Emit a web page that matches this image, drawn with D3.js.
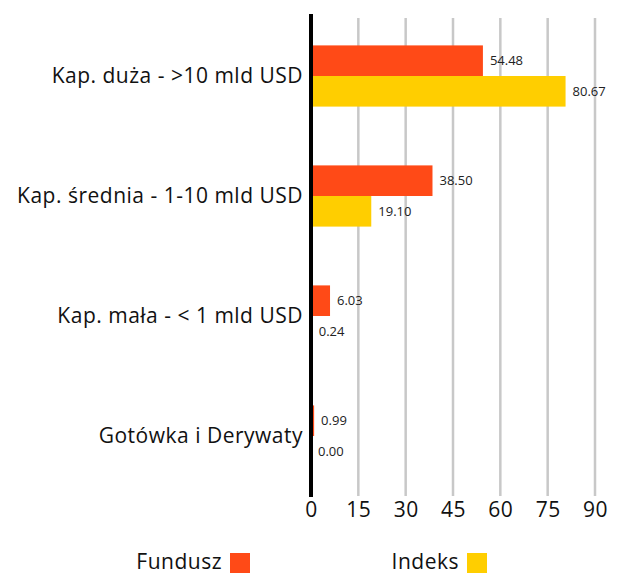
<!DOCTYPE html>
<html>
<head>
<meta charset="utf-8">
<script src="https://cdn.jsdelivr.net/npm/d3@7"></script>
<style>
  body { margin: 0; background: #fff; }
  svg { display: block; font-family: "Open Sans", sans-serif; }
</style>
</head>
<body>
<div id="chart"></div>
<script>
// data
let categories = ["Kap. duża - >10 mld USD", "Kap. średnia - 1-10 mld USD", "Kap. mała - < 1 mld USD", "Gotówka i Derywaty"];
let fundusz = [54.48, 38.50, 6.03, 0.99];
let indeks = [80.67, 19.10, 0.24, 0.00];
let seriesNames = ["Fundusz", "Indeks"];
let xTicks = [0, 15, 30, 45, 60, 75, 90];

let colors = {"Fundusz": "#ff4a17", "Indeks": "#ffce00"};

let width = 622, height = 576;
let margin = ({top: 16, right: 27, bottom: 80, left: 311});

let svg = d3.select("#chart").append("svg")
    .attr("width", width)
    .attr("height", height);

let x = d3.scaleLinear()
    .domain([0, 90])
    .range([margin.left, width - margin.right]);

let y = d3.scaleBand()
    .domain(categories)
    .range([margin.top, height - margin.bottom])
    .paddingInner(0.49)
    .paddingOuter(0.245);

let ySub = d3.scaleBand()
    .domain(seriesNames)
    .range([0, y.bandwidth()]);

// grid lines
svg.append("g")
    .selectAll("line")
    .data(xTicks.filter(d => d > 0))
    .join("line")
    .attr("x1", d => x(d))
    .attr("x2", d => x(d))
    .attr("y1", margin.top + 2)
    .attr("y2", height - margin.bottom)
    .attr("stroke", "#c8c8c8")
    .attr("stroke-width", 2.5);

// x axis labels
let x_axis = g => g
    .attr("transform", `translate(0, ${height - margin.bottom + 2})`)
    .call(d3.axisBottom(x).tickValues(xTicks).tickSize(0).tickPadding(4))
    .call(g => g.select(".domain").remove())
    .call(g => g.selectAll("text")
        .attr("font-size", 21)
        .attr("letter-spacing", 0.5)
        .attr("fill", "#111")
        .attr("font-family", "'Open Sans', sans-serif"));
svg.append("g").call(x_axis);

// bars
let rows = categories.map((c, i) => ({cat: c, values: [
    {name: "Fundusz", value: fundusz[i]},
    {name: "Indeks", value: indeks[i]}
]}));

let groups = svg.append("g")
    .selectAll("g")
    .data(rows)
    .join("g")
    .attr("transform", d => `translate(0, ${y(d.cat)})`);

groups.selectAll("rect")
    .data(d => d.values)
    .join("rect")
    .attr("x", x(0))
    .attr("y", d => ySub(d.name))
    .attr("width", d => x(d.value) - x(0))
    .attr("height", ySub.bandwidth())
    .attr("fill", d => colors[d.name]);

groups.selectAll("text")
    .data(d => d.values)
    .join("text")
    .attr("x", d => x(d.value) + 7)
    .attr("y", d => ySub(d.name) + ySub.bandwidth() / 2)
    .attr("dy", "0.35em")
    .attr("font-size", 13)
    .attr("fill", "#222")
    .text(d => d.value.toFixed(2));

// category labels
svg.append("g")
    .selectAll("text")
    .data(categories)
    .join("text")
    .attr("x", margin.left - 8)
    .attr("y", d => y(d) + y.bandwidth() / 2)
    .attr("dy", "0.35em")
    .attr("text-anchor", "end")
    .attr("font-size", 21)
    .attr("letter-spacing", 0.5)
    .attr("fill", "#111")
    .text(d => d);

// zero axis line
svg.append("line")
    .attr("x1", x(0))
    .attr("x2", x(0))
    .attr("y1", margin.top - 2)
    .attr("y2", height - margin.bottom + 1)
    .attr("stroke", "#000")
    .attr("stroke-width", 4);

// legend
let legendPos = [{name: "Fundusz", tx: 222, sx: 230}, {name: "Indeks", tx: 459, sx: 467}];
let legend = svg.append("g")
    .selectAll("g")
    .data(legendPos)
    .join("g");
legend.append("text")
    .attr("x", d => d.tx)
    .attr("y", 569)
    .attr("text-anchor", "end")
    .attr("font-size", 21)
    .attr("letter-spacing", 0.5)
    .attr("fill", "#111")
    .text(d => d.name);
legend.append("rect")
    .attr("x", d => d.sx)
    .attr("y", 553)
    .attr("width", 20)
    .attr("height", 20)
    .attr("fill", d => colors[d.name]);
</script>
</body>
</html>
